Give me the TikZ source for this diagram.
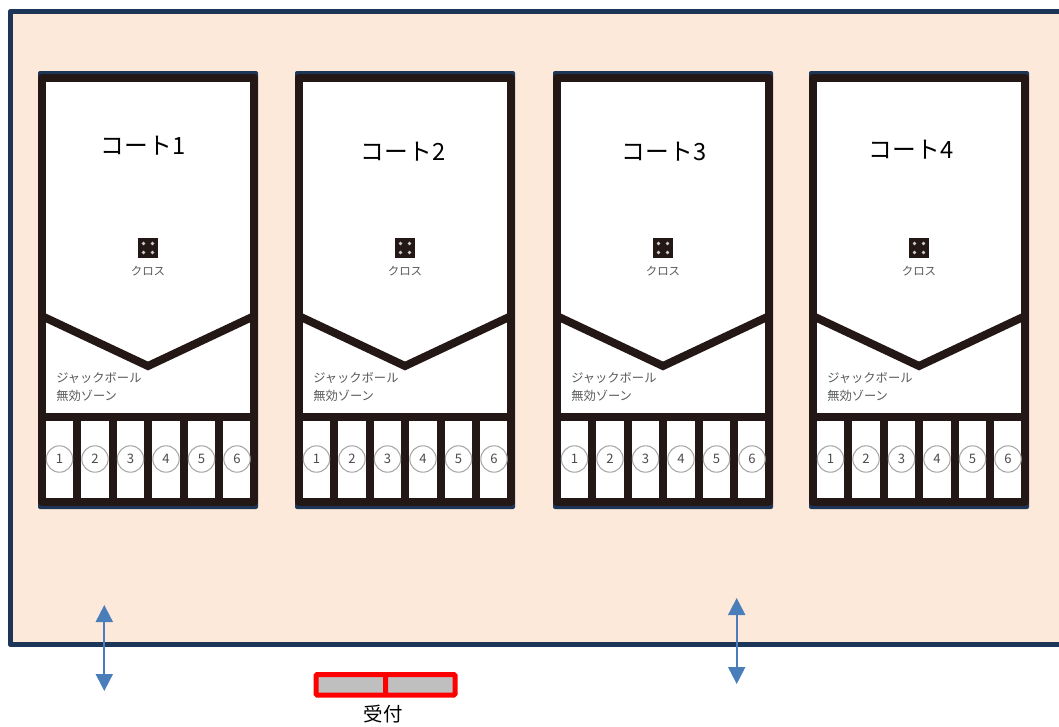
\documentclass[tikz,border=0pt]{standalone}
\usepackage{fontspec}
\setmainfont{Noto Sans CJK JP}
\usetikzlibrary{arrows.meta}
\definecolor{navy}{HTML}{1D3557}
\definecolor{peach}{HTML}{FDE9D9}
\definecolor{ink}{HTML}{231815}
\definecolor{doorblue}{HTML}{4A7EBB}
\tikzset{
courtline/.style={draw=ink,line width=6pt},
title/.style={inner sep=0pt,font=\fontsize{17.8pt}{22pt}\selectfont},
smalltext/.style={inner sep=0pt,text=black!65,font=\fontsize{9.2pt}{11pt}\selectfont},
crosstext/.style={inner sep=0pt,text=black!65,font=\fontsize{8.6pt}{10pt}\selectfont},
lane/.style={
  draw=black!35,circle,line width=.8pt,minimum size=19.8pt,inner sep=0pt,
  text=black!70,font=\fontsize{9.8pt}{11pt}\selectfont},
door/.style={draw=doorblue,line width=1.5pt,
  {Triangle[width=12.75pt,length=12.75pt]}-{Triangle[width=12.75pt,length=12.75pt]}},
desk/.style={draw=red,fill=black!25,line width=3.75pt,rounded corners=.8pt}}

\begin{document}
\begin{tikzpicture}[x=.75pt,y=-.75pt]
\useasboundingbox (0,0) rectangle (1059,726);
% hall
\fill[peach] (10.5,11.5) rectangle (1059,644.5);
\draw[navy,line width=4pt,line join=round] (1059,11.5) -- (10.5,11.5) -- (10.5,644.5) -- (1059,644.5);
% courts
\foreach \ox/\n/\lx/\ly in {0/1/143/146,257/2/403/152,515/3/664/152,771/4/911/150}{
  \begin{scope}[xshift=\ox*.75pt]
    \fill[navy,rounded corners=1.5pt] (38,71) rectangle (258,509);
    \draw[courtline,fill=white,line join=round] (42,78) rectangle (254,501.5);
    \draw[courtline] (42,316.1) -- (148,366) -- (254,316.1);
    \draw[courtline] (46,417) -- (250,417);
    \foreach \vx in {77.3,112.8,148.3,183.8,219.3}
      \draw[courtline] (\vx,417) -- (\vx,501);
    \foreach \lane/\lanex in {1/59.5,2/95,3/130.5,4/166,5/201.5,6/237}
      \node[lane] (lane\n\lane) at (\lanex,459) {\lane};
    \fill[ink] (138,238) rectangle (158,258);
    \foreach \dx/\dy in {-4.5/-4.5,4.5/-4.5,-4.5/4.5,4.5/4.5}
      \fill[black!20] (148+\dx,248+\dy) circle (1.8);
    \node[crosstext] (cross\n) at (148,271) {クロス};
    \node[smalltext,anchor=west] (jack\n) at (56,378) {ジャックボール};
    \node[smalltext,anchor=west] (zone\n) at (56,396) {無効ゾーン};
  \end{scope}
  \node[title] (court\n) at (\lx,\ly) {コート\n};
}
% doors
\coordinate (doorAtop) at (104.3,605);
\coordinate (doorAbot) at (104.3,691);
\coordinate (doorBtop) at (736.7,598);
\coordinate (doorBbot) at (736.7,684);
\draw[door] (doorAtop) -- (doorAbot);
\draw[door] (doorBtop) -- (doorBbot);
% reception
\draw[desk] (316,674.5) rectangle (385.5,695);
\draw[desk] (385.5,674.5) rectangle (455,695);
\node[inner sep=0pt,font=\fontsize{14.6pt}{16pt}\selectfont] (reception) at (383,714) {受付};
\end{tikzpicture}
\end{document}
